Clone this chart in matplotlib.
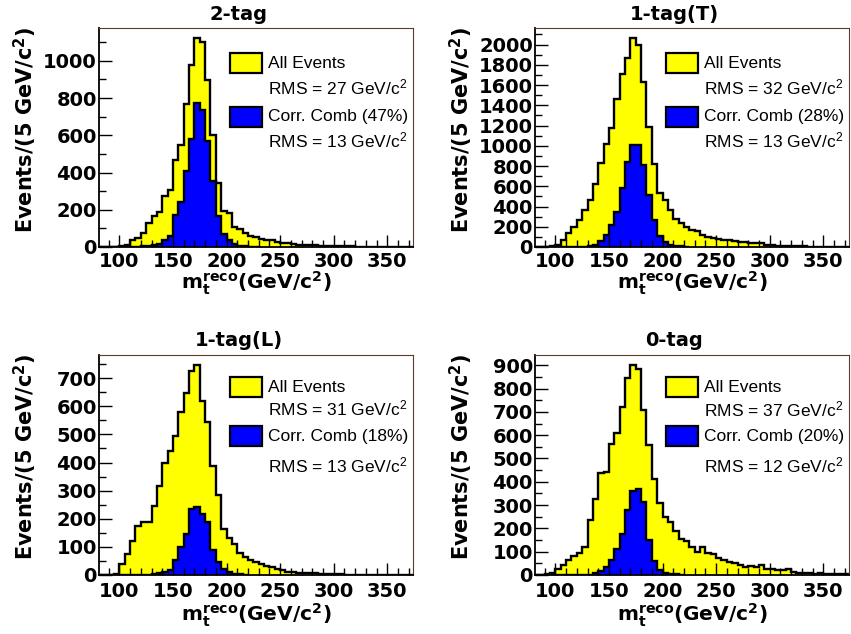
import numpy as np
import matplotlib
matplotlib.use('Agg')
import matplotlib.pyplot as plt
from matplotlib.patches import Rectangle
from matplotlib.ticker import MultipleLocator

plt.rcParams['font.family'] = ['Liberation Sans', 'DejaVu Sans']
plt.rcParams['mathtext.fontset'] = 'custom'
plt.rcParams['mathtext.rm'] = 'Liberation Sans'
plt.rcParams['mathtext.it'] = 'Liberation Sans:italic'
plt.rcParams['mathtext.bf'] = 'DejaVu Sans:bold'

bold_font = 'DejaVu Sans'

# binning: 5 GeV bins, first bin starts at 80
first_edge = 80
bin_width = 5

titles = ['2-tag', '1-tag(T)', '1-tag(L)', '0-tag']
rms_all = [27, 32, 31, 37]
rms_corr = [13, 13, 13, 12]
corr_frac = [47, 28, 18, 20]

# all events, bins from 80 GeV
all_2tag = [0, 0, 0, 2, 5, 10, 40, 50, 75, 130,
            165, 190, 275, 305, 465, 550, 770, 975, 1120, 1100,
            895, 600, 345, 195, 180, 105, 95, 75, 60, 52,
            42, 35, 35, 25, 20, 20, 18, 12, 12, 12,
            10, 8, 6, 6, 5, 4, 3, 3, 2, 2,
            2, 1, 1, 1, 1, 0, 0, 0, 0]
all_1tagT = [0, 0, 2, 5, 20, 70, 140, 200, 270, 370,
             465, 620, 830, 1020, 1175, 1460, 1705, 1870, 2060, 1995,
             1625, 1190, 815, 530, 465, 365, 275, 235, 200, 170,
             155, 120, 100, 90, 80, 70, 65, 55, 45, 45,
             40, 40, 35, 20, 15, 12, 10, 8, 7, 6,
             5, 4, 4, 3, 3, 2, 2, 1, 1]
all_1tagL = [0, 0, 0, 4, 40, 75, 122, 176, 188, 189,
             247, 318, 400, 442, 493, 580, 647, 727, 745, 620,
             543, 387, 286, 165, 132, 110, 80, 65, 52, 45,
             38, 33, 30, 20, 18, 12, 10, 8, 8, 6,
             7, 5, 4, 3, 2, 2, 1, 1, 1, 0,
             0, 0, 0, 0, 0, 0, 0, 0, 0]
all_0tag = [0, 0, 3, 8, 25, 45, 65, 80, 95, 120,
            235, 327, 436, 443, 560, 610, 720, 845, 899, 882,
            706, 556, 413, 311, 250, 226, 190, 154, 144, 120,
            100, 118, 93, 90, 75, 65, 55, 50, 45, 35,
            40, 35, 45, 25, 25, 20, 22, 25, 15, 10,
            8, 8, 6, 8, 6, 5, 4, 3, 3]

# correct combination, bins from 80 GeV
corr_2tag = [0, 0, 0, 0, 0, 0, 0, 2, 3, 5,
             10, 18, 40, 57, 170, 240, 410, 580, 775, 736,
             570, 352, 168, 70, 35, 15, 8, 4, 2, 1]
corr_1tagT = [0, 0, 0, 0, 0, 0, 0, 0, 0, 4,
              8, 20, 55, 120, 220, 350, 580, 840, 1003, 1003,
              807, 513, 268, 105, 45, 20, 10, 5, 2]
corr_1tagL = [0, 0, 0, 0, 0, 0, 0, 0, 0, 0,
              4, 7, 10, 17, 52, 100, 147, 235, 241, 218,
              188, 88, 45, 22, 10, 5, 3, 1]
corr_0tag = [0, 0, 0, 0, 0, 0, 0, 0, 0, 0,
             0, 10, 17, 35, 65, 113, 177, 280, 362, 368,
             313, 150, 58, 22, 10, 5, 3, 1]

all_events = [all_2tag, all_1tagT, all_1tagL, all_0tag]
corr_comb = [corr_2tag, corr_1tagT, corr_1tagL, corr_0tag]
major_step = [200, 200, 100, 100]
minor_step = [100, 100, 50, 50]

W, H = 851, 634
fig = plt.figure(figsize=(W / 100, H / 100), dpi=100)

# axes frames in pixels: left, top, right, bottom
frames = [(99, 28, 413, 247), (535, 28, 849, 247),
          (99, 355, 413, 575), (535, 355, 849, 575)]
xlabel_off = [36, 36, 40, 40]
xtick_pad = [3.5, 3.5, 5, 5]
legend_rows = [[35, 59, 88.5, 112.5], [35, 59, 88.5, 112.5],
               [32, 53, 81, 110], [32, 54, 81, 110]]

yellow = '#ffff00'
blue = '#0000ff'

for i in range(4):
    l, t, r, b = frames[i]
    ax = fig.add_axes([l / W, (H - b) / H, (r - l) / W, (b - t) / H])
    h_px = b - t
    w_px = r - l

    vals = np.array(all_events[i], dtype=float)
    edges = first_edge + bin_width * np.arange(len(vals) + 1)
    ax.stairs(vals, edges, fill=True, color=yellow, baseline=0)
    ax.stairs(vals, edges, color='black', lw=1.7, baseline=0)

    cvals = np.array(corr_comb[i], dtype=float)
    cedges = first_edge + bin_width * np.arange(len(cvals) + 1)
    ax.stairs(cvals, cedges, fill=True, color=blue, baseline=0)
    ax.stairs(cvals, cedges, color='black', lw=1.7, baseline=0)

    ax.set_xlim(81, 374)
    ax.set_ylim(0, 1.05 * vals.max())
    ax.xaxis.set_major_locator(MultipleLocator(50))
    ax.xaxis.set_minor_locator(MultipleLocator(10))
    ax.yaxis.set_major_locator(MultipleLocator(major_step[i]))
    ax.yaxis.set_minor_locator(MultipleLocator(minor_step[i]))
    ax.tick_params(which='both', direction='in', top=False, right=False,
                   width=1.0, color='black')
    ax.tick_params(which='major', length=9)
    ax.tick_params(which='minor', length=5)
    ax.tick_params(axis='x', pad=xtick_pad[i])
    ax.tick_params(axis='y', pad=1.5)
    for lab in ax.get_xticklabels() + ax.get_yticklabels():
        lab.set_fontsize(14)
        lab.set_fontweight('bold')
        lab.set_family(bold_font)

    ax.spines['left'].set_linewidth(1.3)
    ax.spines['bottom'].set_linewidth(1.3)
    ax.spines['top'].set_color('#5a3a2a')
    ax.spines['right'].set_color('#5a3a2a')
    ax.spines['top'].set_linewidth(0.8)
    ax.spines['right'].set_linewidth(0.8)

    ax.text(0.444, 1 + 14 / h_px, titles[i], transform=ax.transAxes,
            ha='center', va='center', fontsize=14, fontweight='bold',
            family=bold_font)
    ax.text(-74 / w_px, 1 + 1 / h_px, r'Events/(5 GeV/c$^{\mathbf{2}}$)',
            transform=ax.transAxes, rotation=90, ha='center', va='top',
            fontsize=15, fontweight='bold', family=bold_font)
    ax.text(0.5, -xlabel_off[i] / h_px,
            r'$\mathbf{m_{t}^{reco}}$(GeV/c$^{\mathbf{2}}$)',
            transform=ax.transAxes, ha='center', va='center',
            fontsize=14.5, fontweight='bold', family=bold_font)

    # legend
    box_x = 131 / w_px
    box_w = 32 / w_px
    box_h = 20 / h_px
    ys = [1 - rr / h_px for rr in legend_rows[i]]
    ax.add_patch(Rectangle((box_x, ys[0] - box_h / 2), box_w, box_h,
                           transform=ax.transAxes, facecolor=yellow,
                           edgecolor='black', lw=1.6, clip_on=False))
    ax.add_patch(Rectangle((box_x, ys[2] - box_h / 2), box_w, box_h,
                           transform=ax.transAxes, facecolor=blue,
                           edgecolor='black', lw=1.6, clip_on=False))
    tx = 169 / w_px
    legend_texts = ['All Events',
                    'RMS = %d GeV/c$^{2}$' % rms_all[i],
                    'Corr. Comb (%d%%)' % corr_frac[i],
                    'RMS = %d GeV/c$^{2}$' % rms_corr[i]]
    for y, s in zip(ys, legend_texts):
        ax.text(tx, y, s, transform=ax.transAxes, ha='left', va='center',
                fontsize=12.5)

fig.savefig('out.png', dpi=100)
